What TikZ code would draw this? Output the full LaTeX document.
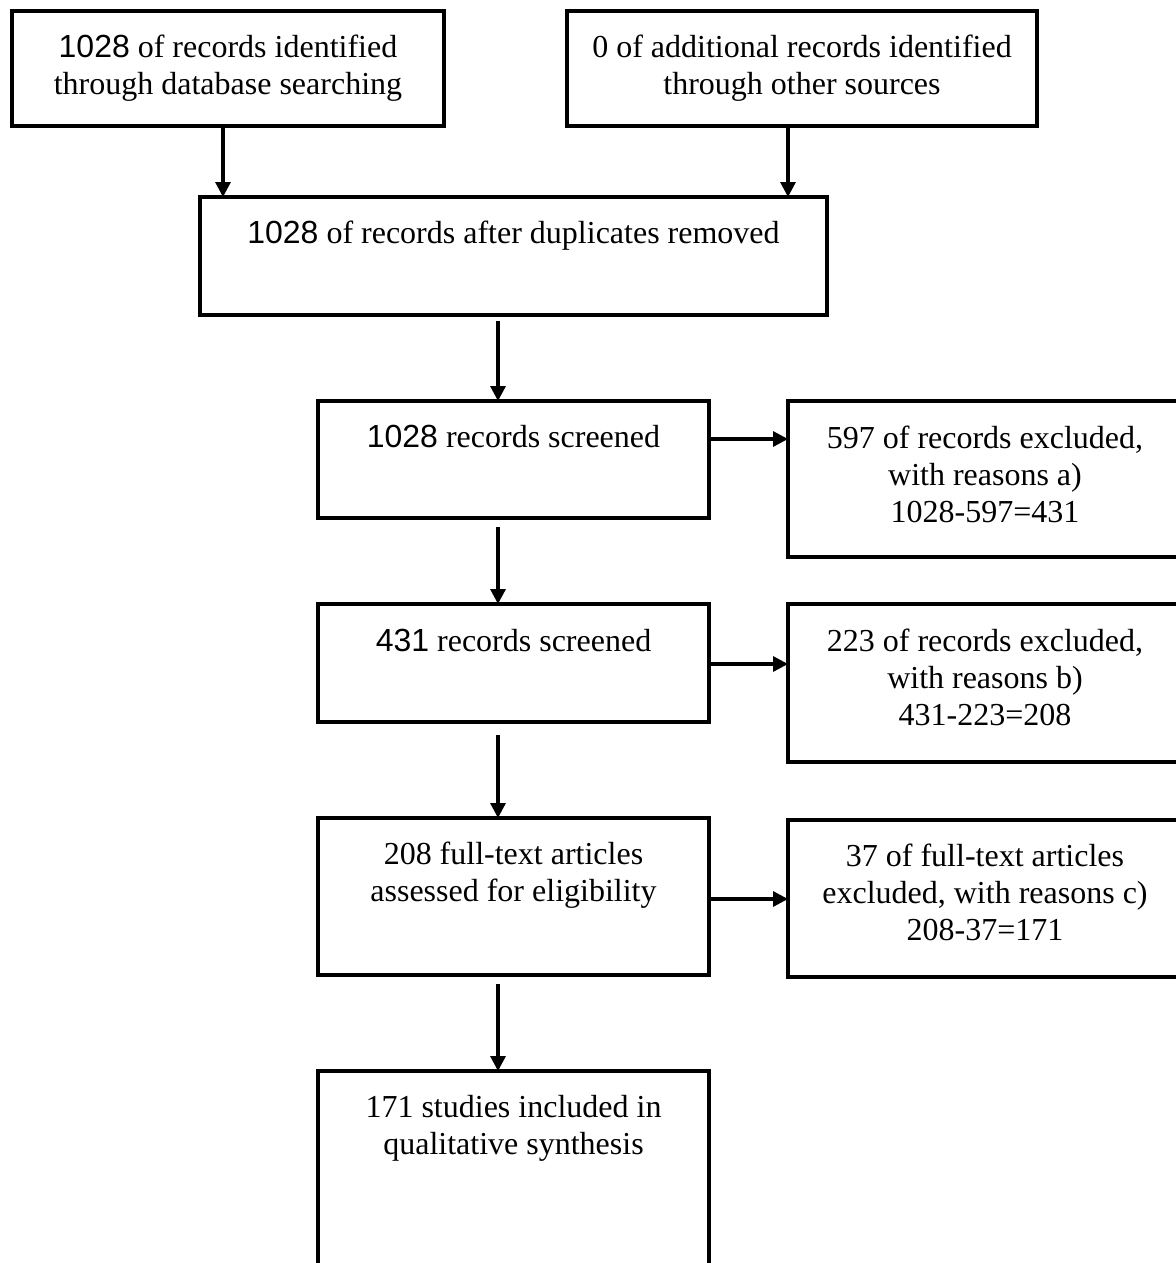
\documentclass[tikz,border=0pt]{standalone}
\usepackage{fontspec}
\setmainfont{Liberation Serif}
\newfontfamily\arialf{Liberation Sans}
\usetikzlibrary{arrows.meta,calc}
\tikzset{
  box/.style={draw, line width=3.6pt, inner sep=0pt, outer sep=0pt, anchor=north west},
  txt/.style={align=center, inner sep=0pt, anchor=north, font=\fontsize{32}{37}\selectfont},
  arr/.style={line width=3.2pt, -{Triangle[width=15pt,length=15pt]}}
}
\begin{document}
\begin{tikzpicture}[x=1pt,y=-1pt]
\useasboundingbox[fill=white] (0,0) rectangle (1175,1263);
% boxes
\node[box, minimum width=432, minimum height=115] (b1) at (12,11) {};
\node[box, minimum width=470, minimum height=115] (b2) at (567,11) {};
\node[box, minimum width=627, minimum height=118] (b3) at (200,197) {};
\node[box, minimum width=391, minimum height=117] (b4) at (318,401) {};
\node[box, minimum width=394, minimum height=156] (b5) at (788,401) {};
\node[box, minimum width=391, minimum height=118] (b6) at (318,604) {};
\node[box, minimum width=394, minimum height=158] (b7) at (788,604) {};
\node[box, minimum width=391, minimum height=157] (b8) at (318,818) {};
\node[box, minimum width=394, minimum height=157] (b9) at (788,820) {};
\node[box, minimum width=391, minimum height=200] (b10) at (318,1071) {};
% texts
\node[txt] (t1) at ($(b1.north)+(0,20)$) {\strut{\arialf 1028} of records identified\\through database searching};
\node[txt] (t2) at ($(b2.north)+(0,20)$) {\strut 0 of additional records identified\\through other sources};
\node[txt] (t3) at ($(b3.north)+(0,20)$) {\strut{\arialf 1028} of records after duplicates removed};
\node[txt] (t4) at ($(b4.north)+(0,20)$) {\strut{\arialf 1028} records screened};
\node[txt] (t5) at ($(b5.north)+(0,21)$) {\strut 597 of records excluded,\\with reasons a)\\1028-597=431};
\node[txt] (t6) at ($(b6.north)+(0,21)$) {\strut{\arialf 431} records screened};
\node[txt] (t7) at ($(b7.north)+(0,21)$) {\strut 223 of records excluded,\\with reasons b)\\431-223=208};
\node[txt] (t8) at ($(b8.north)+(0,20)$) {\strut 208 full-text articles\\assessed for eligibility};
\node[txt] (t9) at ($(b9.north)+(0,20)$) {\strut 37 of full-text articles\\excluded, with reasons c)\\208-37=171};
\node[txt] (t10) at ($(b10.north)+(0,20)$) {\strut 171 studies included in\\qualitative synthesis};
% connectors
\draw[arr] ($(b1.south west)+(211,0)$) -- ($(b3.north west)+(23,0)$);
\draw[arr] ($(b2.south west)+(221,0)$) -- ($(b3.north west)+(588,0)$);
\draw[arr] ($(b3.south west)+(298,6)$) -- ($(b4.north west)+(180,0)$);
\draw[arr] ($(b4.north east)+(0,38)$) coordinate (s4) -- (s4 -| b5.west);
\draw[arr] ($(b4.south west)+(180,9)$) -- ($(b6.north west)+(180,0)$);
\draw[arr] ($(b6.north east)+(0,60)$) coordinate (s6) -- (s6 -| b7.west);
\draw[arr] ($(b6.south west)+(180,13)$) -- ($(b8.north west)+(180,0)$);
\draw[arr] ($(b8.north east)+(0,81)$) coordinate (s8) -- (s8 -| b9.west);
\draw[arr] ($(b8.south west)+(180,9)$) -- ($(b10.north west)+(180,0)$);
\end{tikzpicture}
\end{document}
